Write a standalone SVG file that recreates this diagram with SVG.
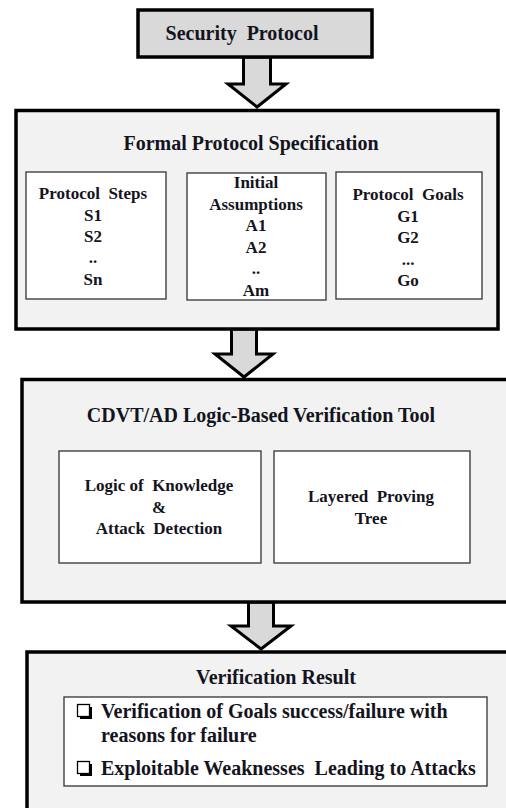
<svg xmlns="http://www.w3.org/2000/svg" width="506" height="808" viewBox="0 0 506 808">
  <style>
    .stage { fill: #f2f2f2; stroke: #000; stroke-width: 3.5; }
    .head { fill: #d9d9d9; stroke: #000; stroke-width: 3.5; }
    .part { fill: #fff; stroke: #404040; stroke-width: 1.4; }
    .flow { fill: #d9d9d9; stroke: #000; stroke-width: 3; stroke-linejoin: miter; }
    .tick { fill: #fff; stroke: #000; stroke-width: 1.3; }
    text { white-space: pre; }
    .t20 { font-size: 20px; }
    .t17 { font-size: 17px; }
    .mid { text-anchor: middle; }
  </style>

  <rect width="506" height="808" fill="#fff"/>

  <!-- block arrows between the stages -->
  <g id="connectors">
    <polygon class="flow" points="243.5,57 270.5,57 270.5,84 286,84 257,107 228,84 243.5,84"/>
    <polygon class="flow" points="231.5,329 256.5,329 256.5,354 273,354 244,377 215,354 231.5,354"/>
    <polygon class="flow" points="248.5,602 273.5,602 273.5,626 291,626 261,649 231,626 248.5,626"/>
  </g>

  <g font-family="'Liberation Serif', 'Times New Roman', serif" font-weight="bold" fill="#141420">

  <g id="security-protocol">
    <rect class="head" x="138" y="10" width="234" height="47"/>
    <text class="t20 mid" x="242" y="40">Security  Protocol</text>
  </g>

  <g id="formal-spec">
    <rect class="stage" x="16" y="110.5" width="482" height="218.5"/>
    <text class="t20 mid" x="251" y="150">Formal Protocol Specification</text>

    <g id="protocol-steps">
      <rect class="part" x="26" y="172" width="140" height="127"/>
      <text class="t17 mid" x="93" y="199">Protocol  Steps</text>
      <text class="t17 mid" x="93" y="220.5">S1</text>
      <text class="t17 mid" x="93" y="242">S2</text>
      <text class="t17 mid" x="93" y="263">..</text>
      <text class="t17 mid" x="93" y="284.5">Sn</text>
    </g>

    <g id="initial-assumptions">
      <rect class="part" x="187" y="173" width="139" height="127"/>
      <text class="t17 mid" x="256" y="188">Initial</text>
      <text class="t17 mid" x="256" y="209.5">Assumptions</text>
      <text class="t17 mid" x="256" y="231">A1</text>
      <text class="t17 mid" x="256" y="252.5">A2</text>
      <text class="t17 mid" x="256" y="274">..</text>
      <text class="t17 mid" x="256" y="296">Am</text>
    </g>

    <g id="protocol-goals">
      <rect class="part" x="336" y="172" width="146" height="127"/>
      <text class="t17 mid" x="408" y="200">Protocol  Goals</text>
      <text class="t17 mid" x="408" y="221.5">G1</text>
      <text class="t17 mid" x="408" y="243">G2</text>
      <text class="t17 mid" x="408" y="264.5">...</text>
      <text class="t17 mid" x="408" y="286">Go</text>
    </g>
  </g>

  <g id="verification-tool">
    <rect class="stage" x="22" y="379.5" width="500" height="222.5"/>
    <text class="t20 mid" x="261" y="422">CDVT/AD Logic-Based Verification Tool</text>

    <g id="logic-knowledge">
      <rect class="part" x="59" y="451" width="202" height="112"/>
      <text class="t17 mid" x="159" y="491">Logic of  Knowledge</text>
      <text class="t17 mid" x="159" y="512.5">&amp;</text>
      <text class="t17 mid" x="159" y="534">Attack  Detection</text>
    </g>

    <g id="proving-tree">
      <rect class="part" x="274" y="451" width="196" height="112"/>
      <text class="t17 mid" x="371" y="502">Layered  Proving</text>
      <text class="t17 mid" x="371" y="523.5">Tree</text>
    </g>
  </g>

  <g id="verification-result">
    <rect class="stage" x="27" y="652" width="500" height="180"/>
    <text class="t20 mid" x="276" y="684">Verification Result</text>

    <g id="result-items">
      <rect class="part" x="64" y="697" width="423" height="89"/>
      <!-- shadowed check boxes -->
      <rect class="tick" x="77.5" y="704.5" width="12" height="12"/>
      <path d="M80 718 H91 V707" fill="none" stroke="#000" stroke-width="2"/>
      <text class="t20" x="101" y="718">Verification of Goals success/failure with</text>
      <text class="t20" x="101" y="742">reasons for failure</text>
      <rect class="tick" x="77.5" y="761.5" width="12" height="12"/>
      <path d="M80 775 H91 V764" fill="none" stroke="#000" stroke-width="2"/>
      <text class="t20" x="101" y="775">Exploitable Weaknesses  Leading to Attacks</text>
    </g>
  </g>

  </g>
</svg>
